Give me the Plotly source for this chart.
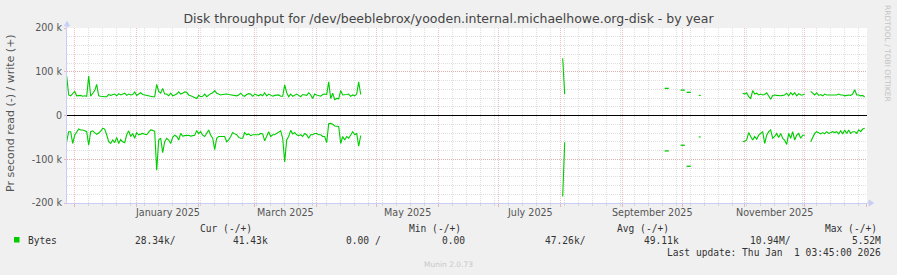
import pandas as pd
import plotly.graph_objects as go

TITLE = "Disk throughput for /dev/beeblebrox/yooden.internal.michaelhowe.org-disk - by year"
Y_TITLE = "Pr second read (-) / write (+)"
X_RANGE = ["2024-11-27 03:45", "2026-01-01 03:45"]

MONTH_LABELS = ["January 2025", "March 2025", "May 2025", "July 2025", "September 2025", "November 2025"]
MONTH_LABEL_AT = ["2025-01-16 12:00", "2025-03-16 12:00", "2025-05-16 12:00",
                  "2025-07-16 12:00", "2025-09-16 00:00", "2025-11-16 00:00"]

Y_TICKS = [-200, -100, 0, 100, 200]          # thousands of bytes per second
Y_TICK_TEXT = ["-200 k", "-100 k", "0", "100 k", "200 k"]

# ---- daily values, thousands of bytes / s (write positive, read negative) ----
SEG1_START = "2024-11-27"
SEG1_WRITE = [
    90, 47, 45, 50, 55, 45, 45, 46, 44, 45,
    44, 90, 44, 50, 57, 71, 45, 44, 43, 43,
    43, 48, 46, 48, 49, 45, 50, 47, 49, 51,
    46, 49, 47, 48, 54, 46, 49, 52, 48, 47,
    46, 44, 43, 43, 43, 71, 55, 51, 62, 49,
    49, 45, 51, 45, 47, 49, 54, 49, 51, 54,
    53, 47, 45, 43, 41, 39, 46, 43, 44, 49,
    43, 47, 50, 52, 57, 51, 48, 47, 48, 49,
    49, 48, 47, 46, 46, 45, 47, 51, 46, 44,
    48, 50, 49, 44, 49, 47, 45, 48, 45, 52,
    45, 49, 47, 44, 46, 46, 47, 44, 44, 70,
    52, 43, 49, 44, 47, 49, 46, 43, 48, 47,
    46, 52, 47, 39, 49, 47, 46, 44, 48, 49,
    48, 77, 39, 51, 36, 39, 38, 57, 47, 47,
    48, 49, 44, 47, 45, 49, 77, 48,
]
SEG1_READ = [
    -60, -37, -37, -64, -45, -37, -31, -33, -33, -35,
    -37, -68, -37, -35, -40, -43, -40, -36, -29, -31,
    -44, -60, -64, -56, -62, -50, -64, -55, -60, -62,
    -44, -35, -48, -41, -52, -39, -44, -42, -41, -43,
    -44, -38, -33, -34, -36, -125, -56, -52, -85, -60,
    -52, -56, -64, -50, -45, -48, -56, -41, -47, -46,
    -45, -45, -47, -46, -45, -35, -41, -37, -45, -48,
    -40, -33, -45, -52, -78, -52, -48, -48, -48, -48,
    -60, -56, -48, -39, -42, -44, -50, -52, -52, -39,
    -44, -42, -46, -44, -44, -44, -44, -41, -42, -58,
    -48, -37, -48, -44, -44, -41, -38, -35, -52, -106,
    -56, -48, -34, -42, -39, -44, -46, -44, -48, -41,
    -44, -52, -44, -44, -41, -41, -44, -44, -48, -48,
    -62, -19, -18, -20, -24, -25, -25, -64, -48, -56,
    -48, -52, -45, -37, -44, -41, -70, -46,
]

SEG2_START = "2025-08-02"
SEG2_WRITE = [131, 49]
SEG2_READ = [-185, -61]

SEG3_START = "2025-10-09"
SEG3_WRITE = [46, 46]
SEG3_READ = [-49, -49]

SEG4_START = "2025-10-31"
SEG4_WRITE = [
    51, 49, 52, 43, 39, 57, 49, 51, 47, 49,
    47, 48, 52, 45, 37, 46, 47, 46, 45, 45,
    46, 47, 51, 45, 52, 47, 52, 45, 50, 47,
    47, 49, None, None, 55, 52, 47, 52, 46, 48,
    45, 49, 47, 47, 47, 48, 48, 47, 49, 47,
    47, 45, 46, 47, 46, 49, 59, 47, 47, 45,
    46, 42,
]
SEG4_READ = [
    -60, -59, -56, -39, -48, -56, -48, -54, -45, -42,
    -37, -64, -45, -37, -33, -52, -48, -41, -50, -41,
    -52, -57, -66, -41, -52, -37, -56, -45, -41, -52,
    -45, -45, None, None, -60, -50, -41, -37, -39, -42,
    -39, -42, -37, -41, -39, -37, -39, -37, -42, -35,
    -42, -33, -41, -33, -41, -37, -37, -41, -33, -37,
    -31, -29,
]

ISO_DATES = ["2025-09-23", "2025-10-01", "2025-10-04"]
ISO_WRITE = [62, 58, 53]
ISO_READ = [-81, -68, -116]

SEGMENTS_WRITE = [(SEG1_START, SEG1_WRITE), (SEG2_START, SEG2_WRITE),
                  (SEG3_START, SEG3_WRITE), (SEG4_START, SEG4_WRITE)]
SEGMENTS_READ = [(SEG1_START, SEG1_READ), (SEG2_START, SEG2_READ),
                 (SEG3_START, SEG3_READ), (SEG4_START, SEG4_READ)]

LEGEND_NAME = "Bytes"
LEGEND_HEADERS = ["Cur (-/+)", "Min (-/+)", "Avg (-/+)", "Max (-/+)"]
LEGEND_VALUES = ["28.34k/", "41.43k", "0.00 /", "0.00", "47.26k/", "49.11k", "10.94M/", "5.52M"]
LAST_UPDATE = "Last update: Thu Jan\u00a0\u00a01 03:45:00 2026"
FOOTER = "Munin 2.0.73"
SIDE_TEXT = "RRDTOOL / TOBI OETIKER"

GREEN = "#00cc00"
MGRID = "rgba(225,130,130,0.5)"
GRID = "rgba(160,160,160,0.35)"
AXIS = "#c8cef6"


def build(segments):
    xs, ys = [], []
    for start, vals in segments:
        dates = pd.date_range(start, periods=len(vals), freq="D")
        xs.extend(list(dates))
        ys.extend(vals)
        xs.append(None)
        ys.append(None)
    return xs, ys


fig = go.Figure()
for segs in (SEGMENTS_WRITE, SEGMENTS_READ):
    x, y = build(segs)
    fig.add_trace(go.Scatter(x=x, y=y, mode="lines", line=dict(color=GREEN, width=1.1),
                             connectgaps=False, hoverinfo="skip", showlegend=False))
for vals in (ISO_WRITE, ISO_READ):
    fig.add_trace(go.Scatter(x=pd.to_datetime(ISO_DATES), y=vals, mode="markers",
                             marker=dict(symbol="line-ew", size=3, color=GREEN,
                                         line=dict(width=1.3, color=GREEN)),
                             hoverinfo="skip", showlegend=False))

W, H = 897, 275
L, R, T, B = 67, 30, 28, 72
PW, PH = W - L - R, H - T - B


def px(x):
    return (x - L) / PW


def py(y):
    return (T + PH - y) / PH


MONO = "DejaVu Sans Mono"
SANS = "DejaVu Sans"
ann = []
for d, t in zip(MONTH_LABEL_AT, MONTH_LABELS):
    ann.append(dict(x=d, xref="x", y=py(212), yref="paper", text=t, showarrow=False,
                    xanchor="center", yanchor="middle", font=dict(family=SANS, size=9.6, color="#555")))
ann.append(dict(x=px(10), y=py(113), xref="paper", yref="paper", text=Y_TITLE, textangle=-90,
                showarrow=False, xanchor="center", yanchor="middle",
                font=dict(family=SANS, size=11, color="#555")))
ann.append(dict(x=px(888), y=py(53), xref="paper", yref="paper", text=SIDE_TEXT, textangle=90,
                showarrow=False, xanchor="center", yanchor="middle",
                font=dict(family=SANS, size=7.5, color="#c4c4c4")))
hdr_x = [198, 406.7, 615, 822.7]
for xx, t in zip(hdr_x, LEGEND_HEADERS):
    ann.append(dict(x=px(xx), y=py(228), xref="paper", yref="paper", text=t, showarrow=False,
                    xanchor="left", yanchor="middle", font=dict(family=MONO, size=9.6, color="#333")))
ann.append(dict(x=px(26), y=py(240), xref="paper", yref="paper", text=LEGEND_NAME, showarrow=False,
                xanchor="left", yanchor="middle", font=dict(family=MONO, size=9.6, color="#333")))
val_pos = [(133.3, "left"), (231, "left"), (344, "left"), (466.7, "right"),
           (542.7, "left"), (642.3, "left"), (748.3, "left"), (883.3, "right")]
for (xx, anc), t in zip(val_pos, LEGEND_VALUES):
    ann.append(dict(x=px(xx), y=py(240), xref="paper", yref="paper", text=t, showarrow=False,
                    xanchor=anc, yanchor="middle", font=dict(family=MONO, size=9.6, color="#333")))
ann.append(dict(x=px(883.3), y=py(252), xref="paper", yref="paper", text=LAST_UPDATE, showarrow=False,
                xanchor="right", yanchor="middle", font=dict(family=MONO, size=9.6, color="#333")))
ann.append(dict(x=px(448), y=py(264), xref="paper", yref="paper", text=FOOTER, showarrow=False,
                xanchor="center", yanchor="middle", font=dict(family=SANS, size=7.5, color="#c8c8c8")))

shapes = [
    dict(type="rect", xref="paper", yref="paper", x0=px(14), x1=px(19.5), y0=py(237), y1=py(242.5),
         fillcolor=GREEN, line=dict(width=0)),
    dict(type="path", xref="paper", yref="paper", xsizemode="pixel", ysizemode="pixel",
         xanchor=1, yanchor=0, path="M 0,0 L 2,0 M 2,-3 L 6.5,0 L 2,3 Z",
         fillcolor=AXIS, line=dict(color=AXIS, width=1)),
    dict(type="path", xref="paper", yref="paper", xsizemode="pixel", ysizemode="pixel",
         xanchor=0, yanchor=1, path="M 0,0 L 0,2 M -2.5,2 L 0,6.5 L 2.5,2 Z",
         fillcolor=AXIS, line=dict(color=AXIS, width=1)),
]

fig.update_layout(
    width=W, height=H, margin=dict(l=L, r=R, t=T, b=B, pad=0),
    paper_bgcolor="#f0f0f0", plot_bgcolor="#ffffff",
    title=dict(text=TITLE, x=0.5, xanchor="center", xref="container",
               y=1 - 19 / H, yanchor="middle", yref="container",
               font=dict(family=SANS, size=12.5, color="#444")),
    showlegend=False,
    annotations=ann, shapes=shapes,
    xaxis=dict(type="date", range=X_RANGE, showticklabels=False,
               tick0="2024-12-01", dtick="M1", showgrid=True, gridcolor=MGRID, griddash="1px,1px",
               gridwidth=1, ticks="outside", ticklen=3, tickcolor=MGRID,
               minor=dict(tick0="2024-12-01", dtick=7 * 86400000, showgrid=True, gridcolor=GRID,
                          griddash="1px,1px", gridwidth=1, ticks="outside", ticklen=2, tickcolor=GRID),
               showline=True, linecolor=AXIS, linewidth=1, zeroline=False, fixedrange=True),
    yaxis=dict(range=[Y_TICKS[0], Y_TICKS[-1]], tickmode="array", tickvals=Y_TICKS, ticktext=Y_TICK_TEXT,
               tickfont=dict(family=SANS, size=9.6, color="#555"),
               showgrid=True, gridcolor=MGRID, griddash="1px,1px", gridwidth=1,
               ticks="outside", ticklen=2, tickcolor=MGRID,
               minor=dict(tickmode="linear", tick0=0, dtick=20, showgrid=True, gridcolor=GRID,
                          griddash="1px,1px", gridwidth=1, ticks="", ticklen=0),
               zeroline=True, zerolinecolor="#000000", zerolinewidth=1,
               showline=True, linecolor=AXIS, linewidth=1, fixedrange=True),
)

fig.write_html("out.html")
